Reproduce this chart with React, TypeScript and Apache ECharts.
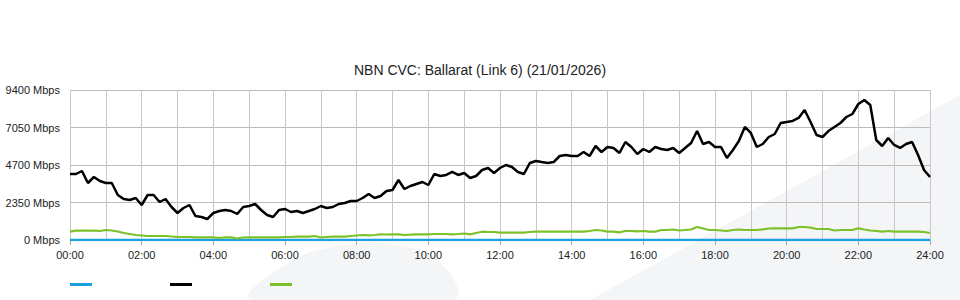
import React, { useEffect, useRef } from 'react';
import * as echarts from 'echarts';

const FONT = '"Liberation Sans", Arial, sans-serif';
const TITLE = 'NBN CVC: Ballarat (Link 6) (21/01/2026)';
const seriesNames = ['Capacity', 'Download', 'Upload'];
const seriesColors = ['#1ba1e2', '#000000', '#7dc12a'];
const yMax = 9400;
const yStep = 2350;

// 10-minute samples, 00:00 .. 24:00
const capacity = [
  0, 0, 0, 0, 0, 0, 0, 0, 0, 0, 0, 0, 0, 0, 0, 0, 0, 0, 0, 0,
  0, 0, 0, 0, 0, 0, 0, 0, 0, 0, 0, 0, 0, 0, 0, 0, 0, 0, 0, 0,
  0, 0, 0, 0, 0, 0, 0, 0, 0, 0, 0, 0, 0, 0, 0, 0, 0, 0, 0, 0,
  0, 0, 0, 0, 0, 0, 0, 0, 0, 0, 0, 0, 0, 0, 0, 0, 0, 0, 0, 0,
  0, 0, 0, 0, 0, 0, 0, 0, 0, 0, 0, 0, 0, 0, 0, 0, 0, 0, 0, 0,
  0, 0, 0, 0, 0, 0, 0, 0, 0, 0, 0, 0, 0, 0, 0, 0, 0, 0, 0, 0,
  0, 0, 0, 0, 0, 0, 0, 0, 0, 0, 0, 0, 0, 0, 0, 0, 0, 0, 0, 0,
  0, 0, 0, 0, 0,
];

const download = [
  4136, 4136, 4324, 3572, 3948, 3698, 3572, 3572, 2820, 2569,
  2507, 2632, 2193, 2820, 2820, 2381, 2569, 2068, 1692, 2005,
  2193, 1504, 1441, 1316, 1692, 1817, 1880, 1817, 1629, 2068,
  2131, 2256, 1880, 1567, 1441, 1880, 1943, 1755, 1817, 1692,
  1817, 1943, 2131, 2005, 2068, 2256, 2319, 2444, 2444, 2632,
  2883, 2632, 2757, 3071, 3134, 3760, 3196, 3384, 3510, 3635,
  3447, 4136, 4011, 4074, 4262, 4074, 4199, 3886, 4011, 4387,
  4512, 4199, 4512, 4700, 4575, 4262, 4136, 4826, 4951, 4888,
  4826, 4888, 5264, 5327, 5264, 5264, 5515, 5264, 5891, 5515,
  5828, 5766, 5452, 6142, 5828, 5390, 5703, 5515, 5828, 5703,
  5640, 5766, 5452, 5766, 6079, 6831, 6016, 6142, 5828, 5828,
  5139, 5640, 6204, 7082, 6706, 5828, 6016, 6455, 6643, 7332,
  7395, 7458, 7646, 8147, 7395, 6580, 6455, 6830, 7082, 7332,
  7708, 7896, 8523, 8770, 8460, 6267, 5891, 6392, 5954, 5766,
  6016, 6142, 5327, 4387, 3948,
];

const upload = [
  520, 583, 583, 583, 583, 564, 627, 595, 533, 439,
  376, 313, 282, 251, 251, 251, 251, 219, 188, 188,
  188, 169, 169, 169, 169, 125, 169, 169, 94, 157,
  169, 169, 169, 169, 169, 169, 188, 188, 207, 219,
  207, 251, 157, 188, 207, 207, 207, 251, 282, 313,
  294, 313, 357, 345, 357, 357, 313, 332, 357, 357,
  357, 376, 376, 376, 357, 376, 407, 357, 439, 520,
  501, 501, 457, 470, 457, 470, 457, 501, 520, 520,
  520, 520, 520, 520, 520, 520, 520, 564, 627, 595,
  520, 520, 482, 564, 564, 545, 564, 520, 520, 627,
  627, 658, 595, 627, 658, 815, 721, 627, 627, 595,
  564, 627, 658, 627, 627, 627, 670, 721, 733, 733,
  733, 733, 815, 815, 771, 689, 689, 689, 595, 627,
  627, 627, 733, 658, 595, 564, 520, 564, 520, 520,
  520, 520, 520, 501, 439,
];

const times = download.map((_, i) => {
  const m = i * 10;
  const h = Math.floor(m / 60);
  return `${String(h).padStart(2, '0')}:${String(m % 60).padStart(2, '0')}`;
});

export default function App() {
  const ref = useRef<HTMLDivElement>(null);

  useEffect(() => {
    if (!ref.current) return;
    const chart = echarts.init(ref.current, undefined, { renderer: 'svg' });
    const data = [capacity, download, upload];
    const widths = [2.5, 2.5, 2.2];
    chart.setOption({
      animation: false,
      backgroundColor: '#ffffff',
      textStyle: { fontFamily: FONT },
      title: {
        text: TITLE,
        left: 'center',
        top: 63,
        padding: 0,
        textStyle: { fontSize: 14, fontWeight: 'normal', color: '#222222', fontFamily: FONT },
      },
      graphic: [
        {
          type: 'polygon',
          z: -10,
          silent: true,
          shape: { points: [[590, 300], [960, 95], [960, 300]] },
          style: { fill: '#f4f5f7' },
        },
        {
          type: 'polygon',
          z: -10,
          silent: true,
          shape: {
            smooth: 0.5,
            points: [[253, 300], [285, 265], [345, 245], [400, 246], [440, 262], [452, 300]],
          },
          style: { fill: '#f4f5f7' },
        },
      ],
      grid: { left: 70, right: 30, top: 90, bottom: 60 },
      legend: {
        left: 70,
        top: 283,
        padding: 0,
        icon: 'rect',
        itemWidth: 22,
        itemHeight: 3,
        itemGap: 78,
        selectedMode: false,
        formatter: () => '',
        data: seriesNames,
      },
      xAxis: {
        type: 'category',
        data: times,
        boundaryGap: false,
        axisLine: { show: true, lineStyle: { color: '#bbbbbb' } },
        axisTick: { show: true, interval: 11, length: 5, lineStyle: { color: '#aaaaaa' } },
        axisLabel: { interval: 11, margin: 9, fontSize: 11, color: '#222222', fontFamily: FONT },
        splitLine: { show: true, interval: 5, lineStyle: { color: '#c8c8c8', width: 1 } },
      },
      yAxis: {
        type: 'value',
        min: 0,
        max: yMax,
        interval: yStep,
        axisLine: { show: false },
        axisTick: { show: false },
        axisLabel: {
          formatter: (v: number) => `${v} Mbps`,
          margin: 10,
          fontSize: 11,
          color: '#222222',
          fontFamily: FONT,
          padding: [0, 0, 4, 0],
        },
        splitLine: { lineStyle: { color: '#bbbbbb', width: 1 } },
      },
      series: seriesNames.map((name, k) => ({
        name,
        type: 'line',
        data: data[k],
        showSymbol: false,
        symbol: 'none',
        color: seriesColors[k],
        lineStyle: { color: seriesColors[k], width: widths[k] },
        z: 2 + k,
      })),
    });
    return () => chart.dispose();
  }, []);

  return (
    <div
      ref={ref}
      style={{ position: 'fixed', left: 0, top: 0, width: 960, height: 300 }}
    />
  );
}
